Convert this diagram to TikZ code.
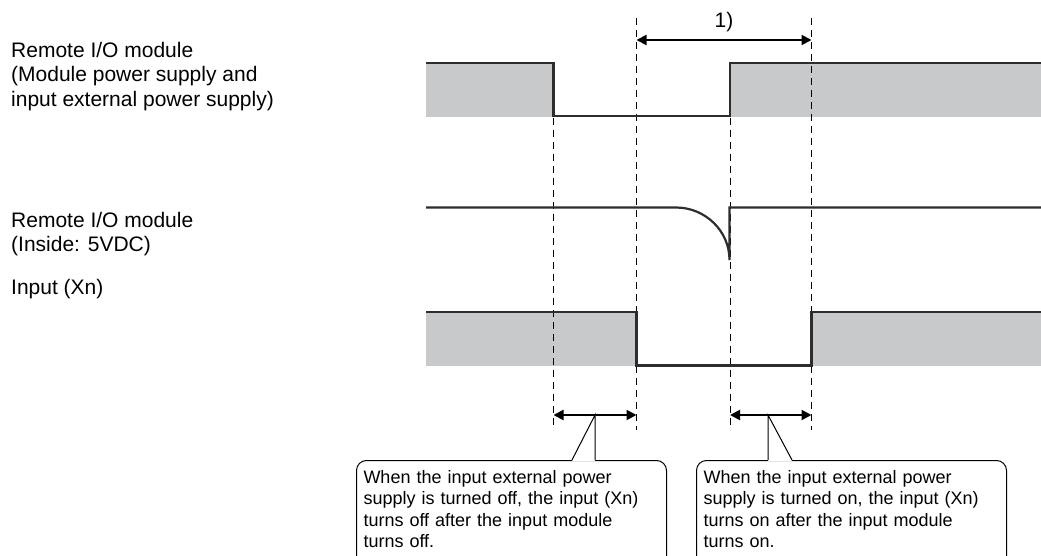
\documentclass[tikz,border=0pt]{standalone}
\usepackage{fontspec}
\setmainfont{Liberation Sans}
\usetikzlibrary{arrows.meta, calc, positioning}
\definecolor{sigfill}{RGB}{200,201,203}
\definecolor{sigline}{RGB}{45,45,45}

\begin{document}
\begin{tikzpicture}[x=1pt, y=-1pt,
	sig/.style={sigline, line width=2.2pt},
	level/.style={fill=sigfill},
	timeline/.style={black, line width=1pt, dash pattern=on 7pt off 5pt},
	dimarrow/.style={{Triangle[length=10pt,width=10pt]}-{Triangle[length=10pt,width=10pt]}, line width=2pt},
	notebox/.style={draw, rounded corners=10pt, line width=1pt, text width=296pt, inner xsep=7pt, inner ysep=10pt, align=left, anchor=north west, font=\fontsize{18}{21.3}\selectfont},
	sigtext/.style={inner sep=0pt, anchor=north west, align=left, font=\fontsize{21}{24.5}\selectfont}]
		\useasboundingbox (0,0) rectangle (1041,556);
		\clip (0,0) rectangle (1041,556);
		
		%----------------------------------------------------------------
		\node(pwr) [sigtext] at (11,41.7) {Remote I/O module\\(Module power supply and\\input external power supply)};
		\node(inside) [sigtext] at (11,211.7) {Remote I/O module\\(Inside: 5VDC)};
		\node(inp) [sigtext] at (11,279.5) {Input (Xn)};
		
		%----------------------------------------------------------------
		\fill[level] (426,63) rectangle (553.5,117);
		\fill[level] (730,63) rectangle (1041,117);
		\fill[level] (426,312) rectangle (636.5,366);
		\fill[level] (811.5,312) rectangle (1041,366);
		
		\draw[timeline] (553.5,118) -- (553.5,430);
		\draw[timeline] (636.5,18) -- (636.5,430);
		\draw[timeline] (730,118) -- (730,430);
		\draw[timeline] (811.5,18) -- (811.5,430);
		
		\draw[sig] (426,63) -- (553.5,63) -- (553.5,116) -- (730,116) -- (730,63) -- (1041,63);
		\draw[sig] (426,207.5) -- (676,207.5) .. controls (705.3,207.5) and (729.5,231) .. (729.5,260) -- (729.5,207.5) -- (1041,207.5);
		\draw[sig] (426,312) -- (636.5,312) -- (636.5,365.5) -- (811.5,365.5) -- (811.5,312) -- (1041,312);
		
		%----------------------------------------------------------------
		\draw[dimarrow] (636.5,40) -- node(span) [above=7.5pt, inner sep=0pt, font=\fontsize{21}{24.5}\selectfont] {1)} (811.5,40);
		\draw[dimarrow] (553.5,415) -- (636.5,415);
		\draw[dimarrow] (730,415) -- (811.5,415);
		
		%----------------------------------------------------------------
		\node(offnote) [notebox] at (356,460) {When the input external power\\supply is turned off, the input (Xn)\\turns off after the input module\\turns off.\rule[-9pt]{0pt}{9pt}};
		\node(onnote) [notebox] at (696,460) {When the input external power\\supply is turned on, the input (Xn)\\turns on after the input module\\turns on.\rule[-9pt]{0pt}{9pt}};
		
		\coordinate (offtip) at (595,415);
		\coordinate (ontip) at (768,415);
		\fill[white] ($(offnote.north west)+(216,1)$) -- (offtip) -- ($(offtip |- offnote.north)+(0,1)$) -- cycle;
		\draw[line width=1pt] ($(offnote.north west)+(216,0)$) -- (offtip) -- (offtip |- offnote.north);
		\fill[white] ($(onnote.north west)+(96,1)$) -- (ontip) -- ($(ontip |- onnote.north)+(0,1)$) -- cycle;
		\draw[line width=1pt] ($(onnote.north west)+(96,0)$) -- (ontip) -- (ontip |- onnote.north);
		
	\end{tikzpicture}
\end{document}
